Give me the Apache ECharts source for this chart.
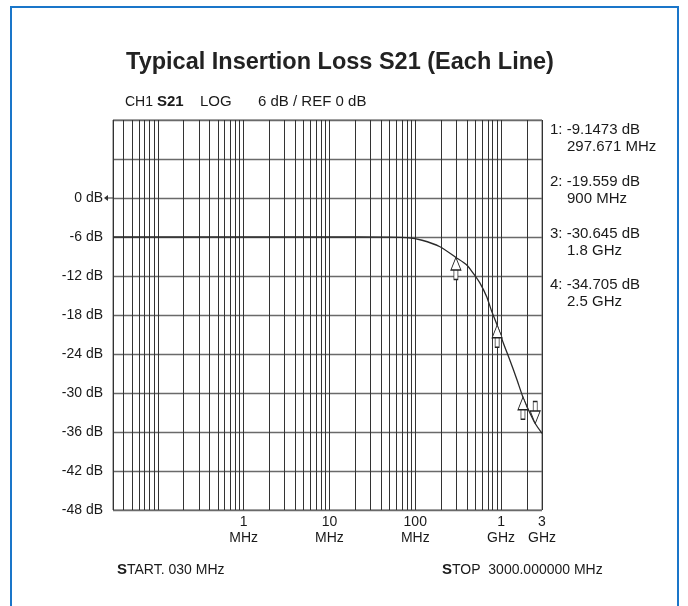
<!DOCTYPE html>
<html>
<head>
<meta charset="utf-8">
<script src="https://cdn.jsdelivr.net/npm/echarts@6/dist/echarts.min.js"></script>
<style>
  html, body { margin: 0; padding: 0; background: #fff; }
  #chart { width: 688px; height: 606px; }
</style>
</head>
<body>
<div id="chart"></div>
<script>
// trace (MHz, dB)
const freqMHz = [0.03, 1, 10, 50, 80, 120, 194, 297.671, 398, 475, 568, 680, 776, 900, 1062, 1271, 1517, 1800, 2072, 2500, 3000];
const lossDb = [-6, -6, -6, -6.02, -6.1, -6.5, -7.5, -9.15, -10.3, -11.6, -13.1, -15.2, -17.4, -19.56, -22.3, -25.0, -27.8, -30.65, -32.5, -34.7, -36.2];

// markers
const markerFreqMHz = [297.671, 900, 1800, 2500];
const markerDb = [-9.1473, -19.559, -30.645, -34.705];
const markerDbText = ['-9.1473', '-19.559', '-30.645', '-34.705'];
const markerFreqText = ['297.671 MHz', '900 MHz', '1.8 GHz', '2.5 GHz'];

// x axis labels
const xLabelFreqs = [1, 10, 100, 1000, 3000];
const xLabelText = ['1\nMHz', '10\nMHz', '100\nMHz', '1\nGHz', '3\nGHz'];

// reference level pointer
const refStartMHz = 0.03;
const refLevelDb = 0;

// log paper grid: 1..9 in every decade between start and stop
const gridFreqs = [];
[0.01, 0.1, 1, 10, 100, 1000].forEach(function (base) {
  for (let m = 1; m <= 9; m++) {
    const f = Number((m * base).toPrecision(3));
    if (f >= 0.03 && f <= 3000) gridFreqs.push(f);
  }
});

const FONT = '"Liberation Sans", Arial, sans-serif';

const upArrow = 'path://M5,0 L10,12 L0,12 Z M3,12 L7,12 L7,21 L3,21 Z';
const downArrow = 'path://M3,0 L7,0 L7,9 L3,9 Z M0,9 L10,9 L5,21 Z';
const refPointer = 'path://M0,3 L4,0 L4,6 Z M4,2.5 L9,2.5 L9,3.5 L4,3.5 Z';

const chart = echarts.init(document.getElementById('chart'));

function txt(x, y, text, font) {
  return { type: 'text', style: { x: x, y: y, text: text, font: font, fill: '#1a1a1a', textVerticalAlign: 'middle' } };
}

const markerTexts = [];
markerDbText.forEach(function (t, i) {
  const y0 = 130 + i * 51.7;
  markerTexts.push(txt(550, y0, (i + 1) + ': ' + t + ' dB', '15px ' + FONT));
  markerTexts.push(txt(567, y0 + 17, markerFreqText[i], '15px ' + FONT));
});

const markerData = markerFreqMHz.map(function (f, i) {
  const down = i === 3;
  return {
    coord: [f, markerDb[i]],
    symbol: down ? downArrow : upArrow,
    symbolSize: [10, 22],
    symbolOffset: [0, down ? -11 : 11],
    itemStyle: { color: '#fff', borderColor: '#222', borderWidth: 1 }
  };
});
markerData.push({
  coord: [refStartMHz, refLevelDb],
  symbol: refPointer,
  symbolSize: [9, 6],
  symbolOffset: [-4.5, 0],
  itemStyle: { color: '#333', borderWidth: 0 }
});

const option = {
  animation: false,
  backgroundColor: '#fff',
  grid: {
    left: 113,
    right: 146,
    top: 120,
    bottom: 96,
    show: true,
    borderColor: '#666',
    borderWidth: 1
  },
  xAxis: {
    type: 'log',
    logBase: 10,
    min: 0.03,
    max: 3000,
    axisLine: { show: false },
    axisTick: { show: false, customValues: gridFreqs },
    splitLine: { show: true, lineStyle: { color: '#333', width: 1 } },
    axisLabel: {
      customValues: xLabelFreqs,
      margin: 4,
      fontSize: 14,
      lineHeight: 16,
      color: '#1a1a1a',
      fontFamily: FONT,
      formatter: function (v) {
        for (let i = 0; i < xLabelFreqs.length; i++) {
          if (Math.abs(Math.log10(v / xLabelFreqs[i])) < 1e-4) return xLabelText[i];
        }
        return '';
      }
    }
  },
  yAxis: {
    type: 'value',
    min: -48,
    max: 12,
    interval: 6,
    axisLine: { show: false },
    axisTick: { show: false },
    splitLine: { lineStyle: { color: '#6a6a6a', width: 1.3 } },
    axisLabel: {
      margin: 10,
      fontSize: 14,
      color: '#1a1a1a',
      fontFamily: FONT,
      formatter: function (v) {
        return v > 0 ? '' : v + ' dB';
      }
    }
  },
  series: [{
    type: 'line',
    data: freqMHz.map(function (f, i) { return [f, lossDb[i]]; }),
    showSymbol: false,
    smooth: 0.25,
    lineStyle: { color: '#2a2a2a', width: 1.3 },
    markPoint: {
      label: { show: false },
      data: markerData
    }
  }],
  graphic: [
    {
      type: 'rect',
      shape: { x: 11, y: 7, width: 667, height: 640 },
      style: { fill: 'none', stroke: '#1a76c9', lineWidth: 2 },
      silent: true
    },
    {
      type: 'text',
      style: { x: 340, y: 63, text: 'Typical Insertion Loss S21 (Each Line)', font: 'bold 23.5px ' + FONT, fill: '#222', textAlign: 'center', textVerticalAlign: 'middle' }
    },
    txt(125, 102, 'CH1', '14px ' + FONT),
    txt(157, 102, 'S21', 'bold 15px ' + FONT),
    txt(200, 102, 'LOG', '15px ' + FONT),
    txt(258, 102, '6 dB / REF 0 dB', '15px ' + FONT),
    txt(117, 570, 'S', 'bold 15px ' + FONT),
    txt(127, 570, 'TART. 030 MHz', '14px ' + FONT),
    txt(442, 570, 'S', 'bold 15px ' + FONT),
    txt(452, 570, 'TOP  3000.000000 MHz', '14px ' + FONT)
  ].concat(markerTexts)
};

chart.setOption(option);
</script>
</body>
</html>
